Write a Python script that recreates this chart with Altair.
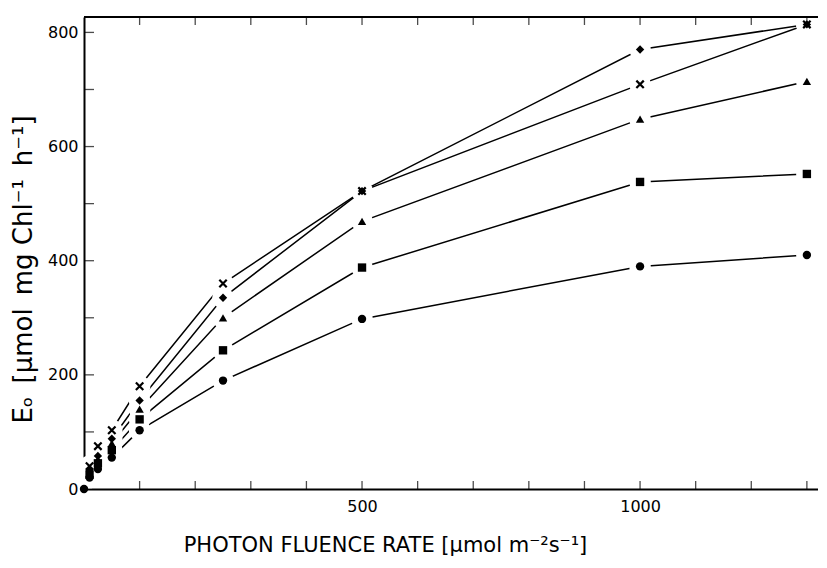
import altair as alt
import pandas as pd

# photon fluence rate (x) values
x_vals = [0, 10, 25, 50, 100, 250, 500, 1000, 1300]

# E_o values per series
circle_vals = [0, 20, 35, 55, 103, 190, 298, 390, 410]
square_vals = [0, 25, 45, 68, 122, 243, 388, 538, 552]
triangle_vals = [0, 28, 52, 80, 140, 300, 469, 648, 714]
diamond_vals = [0, 32, 58, 88, 155, 335, 522, 770, 814]
cross_vals = [0, 40, 75, 103, 180, 360, 522, 709, 814]

x_tick_vals = [100, 200, 300, 400, 500, 600, 700, 800, 900, 1000, 1100, 1200, 1300]
y_tick_vals = [100, 200, 300, 400, 500, 600, 700, 800]
x_label_vals = [500, 1000]
y_label_vals = [0, 200, 400, 600, 800]

XMAX = 1320
YMAX = 827
FONT = "DejaVu Sans"

series = {
    "circle": circle_vals,
    "square": square_vals,
    "triangle-up": triangle_vals,
    "diamond": diamond_vals,
    "cross": cross_vals,
}
rows = []
for name, vals in series.items():
    for xv, yv in zip(x_vals, vals):
        rows.append({"series": name, "pfr": xv, "eo": yv})
df = pd.DataFrame(rows)
# at the origin all series coincide; only the dot is visible there
df_marks = df[(df.pfr > 0) | (df.series == "circle")]
df_filled = df_marks[df_marks.series != "cross"]
df_cross = df_marks[df_marks.series == "cross"]
df_halo = df[df.pfr > 0]

x_scale = alt.Scale(domain=[0, XMAX], nice=False, zero=True)
y_scale = alt.Scale(domain=[0, YMAX], nice=False, zero=True)

x_axis = alt.Axis(
    title="PHOTON FLUENCE RATE [µmol m⁻²s⁻¹]",
    values=x_label_vals, format="d", ticks=False, grid=False,
    domain=True, domainColor="black", domainWidth=2,
    labelFont=FONT, labelFontSize=16, labelColor="black", labelPadding=9,
    titleFont=FONT, titleFontSize=21, titleFontWeight="normal", titleColor="black",
    titlePadding=20, titleX=301,
)
y_axis = alt.Axis(
    title="E\u2092\u2002[µmol\u2002mg Chl⁻¹\u2002h⁻¹]",
    values=y_label_vals, format="d", ticks=False, grid=False,
    domain=True, domainColor="black", domainWidth=2,
    labelFont=FONT, labelFontSize=16, labelColor="black", labelPadding=6,
    titleFont=FONT, titleFontSize=26, titleFontWeight="normal", titleColor="black",
    titlePadding=11, titleY=252,
)

X = alt.X("pfr:Q", scale=x_scale, axis=x_axis)
Y = alt.Y("eo:Q", scale=y_scale, axis=y_axis)

lines = alt.Chart(df).mark_line(color="black", strokeWidth=1.5).encode(
    x=X, y=Y, detail="series:N", order="pfr:Q"
)
halo = alt.Chart(df_halo).mark_point(filled=True, fill="white", stroke="white", opacity=1, size=380).encode(
    x=X, y=Y, shape=alt.value("circle")
)
filled = alt.Chart(df_filled).mark_point(filled=True, color="black", opacity=1, size=70).encode(
    x=X, y=Y,
    shape=alt.Shape("series:N", scale=alt.Scale(
        domain=["circle", "square", "triangle-up", "diamond"],
        range=["circle", "square", "triangle-up", "diamond"]), legend=None),
)
cross = alt.Chart(df_cross).mark_point(
    shape="M-1,-1L1,1M1,-1L-1,1", filled=False, color="black", strokeWidth=2.2, size=55, opacity=1
).encode(x=X, y=Y)

# inward tick marks
bottom_ticks = pd.DataFrame({"pfr": x_tick_vals, "eo": [0] * len(x_tick_vals)})
top_ticks = pd.DataFrame({"pfr": x_tick_vals, "eo": [YMAX] * len(x_tick_vals)})
left_ticks = pd.DataFrame({"pfr": [0] * len(y_tick_vals), "eo": y_tick_vals})

tb = alt.Chart(bottom_ticks).mark_tick(orient="vertical", color="black", size=8, thickness=1.3, yOffset=-4).encode(x=X, y=Y)
tt = alt.Chart(top_ticks).mark_tick(orient="vertical", color="black", size=8, thickness=1.3, yOffset=4).encode(x=X, y=Y)
tl = alt.Chart(left_ticks).mark_tick(orient="horizontal", color="black", size=10, thickness=1.3, xOffset=5).encode(x=X, y=Y)

top_line_df = pd.DataFrame({"pfr": [0], "pfr_end": [XMAX], "eo": [YMAX]})
top_line = alt.Chart(top_line_df).mark_rule(color="black", strokeWidth=2).encode(
    x=X, x2="pfr_end:Q", y=Y
)

chart = alt.layer(lines, halo, filled, cross, tb, tt, tl, top_line).properties(
    width=734, height=472,
    autosize=alt.AutoSizeParams(type="none"),
    padding={"left": 76, "top": 9, "right": 0, "bottom": 70},
).configure_view(stroke=None).configure(background="white")

chart.save("out.html", embed_options={"renderer": "svg", "actions": False})
